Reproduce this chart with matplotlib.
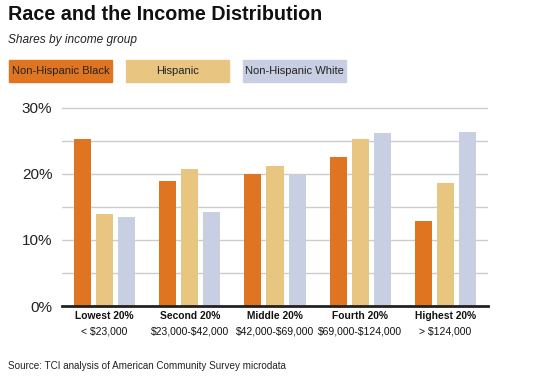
import numpy as np
import matplotlib.pyplot as plt
import matplotlib.transforms as mtransforms
from matplotlib.patches import Rectangle

plt.rcParams['font.family'] = ['Liberation Sans', 'DejaVu Sans']
plt.rcParams['text.parse_math'] = False

# Data
groups = ["Lowest 20%", "Second 20%", "Middle 20%", "Fourth 20%", "Highest 20%"]
ranges = ["< $23,000", "$23,000-$42,000", "$42,000-$69,000", "$69,000-$124,000", "> $124,000"]
series = ["Non-Hispanic Black", "Hispanic", "Non-Hispanic White"]
black = [25.3, 18.9, 20.0, 22.5, 12.9]
hispanic = [13.9, 20.8, 21.2, 25.3, 18.6]
white = [13.5, 14.2, 19.9, 26.2, 26.3]
colors = ["#DF7520", "#E8C581", "#C8CFE3"]

fig = plt.figure(figsize=(5.4, 3.76), dpi=100)
W, H = 540, 376
ax = fig.add_axes([62 / W, 1 - 306 / H, 426 / W, 200 / H])

x = np.arange(len(groups))
width = 0.2
offs = [-0.26, 0, 0.26]
for vals, off, c in zip([black, hispanic, white], offs, colors):
    ax.bar(x + off, vals, width, color=c, zorder=3)

ax.set_xlim(-0.5, 4.5)
ax.set_ylim(0, 30.3)
ax.set_yticks(np.arange(0, 31, 5))
ax.set_yticklabels(["0%", "", "10%", "", "20%", "", "30%"], fontsize=11)
ax.tick_params(axis='y', length=0, pad=7, colors="#222222")
ax.tick_params(axis='x', length=0)
ax.set_xticks([])
ax.grid(axis='y', color="#CCCCCC", linewidth=1, zorder=0)
for s in ["top", "right", "left"]:
    ax.spines[s].set_visible(False)
ax.spines["bottom"].set_linewidth(2)
ax.spines["bottom"].set_color("#222222")
ax.spines["bottom"].set_zorder(4)

trans = mtransforms.blended_transform_factory(ax.transData, fig.transFigure)
for i, (g, r) in enumerate(zip(groups, ranges)):
    ax.text(i, 1 - 316 / H, g, transform=trans, ha='center', va='center',
            fontsize=7.4, fontweight='bold', color="#111111")
    ax.text(i, 1 - 332 / H, r, transform=trans, ha='center', va='center',
            fontsize=7.5, color="#111111")

# Titles
fig.text(8 / W, 1 - 15 / H, "Race and the Income Distribution", fontsize=14.2,
         fontweight='bold', ha='left', va='center', color="#111111")
fig.text(8 / W, 1 - 40 / H, "Shares by income group", fontsize=8.6,
         style='italic', ha='left', va='center', color="#222222")

# Legend boxes
boxes = [(9, 112), (126, 229), (243, 346)]
for (x0, x1), lab, c in zip(boxes, series, colors):
    fig.patches.append(Rectangle((x0 / W, 1 - 82 / H), (x1 - x0) / W, 22 / H,
                                 transform=fig.transFigure, color=c))
    fig.text((x0 + x1) / 2 / W, 1 - 71 / H, lab, fontsize=8, ha='center',
             va='center', color="#222222")

fig.text(8 / W, 1 - 366 / H, "Source: TCI analysis of American Community Survey microdata",
         fontsize=7.1, ha='left', va='center', color="#222222")

fig.savefig("out.png", dpi=100)
